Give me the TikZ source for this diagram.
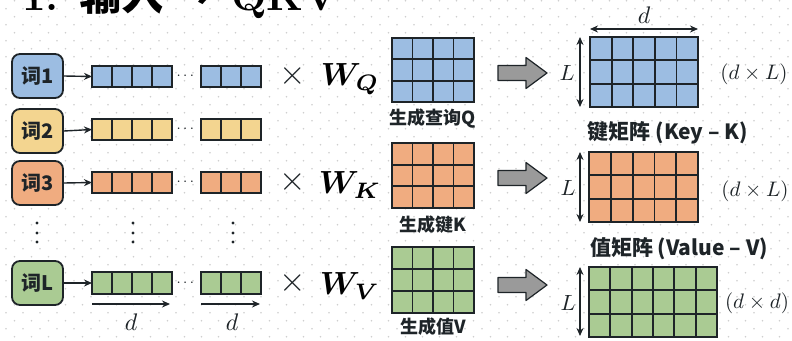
\documentclass[tikz,border=0pt]{standalone}
\usepackage{amsmath,bm}
\usepackage{graphicx}
\usepackage{fontspec}
\newfontfamily\cjk{Noto Sans CJK SC}
\usetikzlibrary{arrows.meta}
\definecolor{cblue}{HTML}{9CBDE2}
\definecolor{cyellow}{HTML}{F3D590}
\definecolor{corange}{HTML}{F0AC80}
\definecolor{cgreen}{HTML}{AACB93}
\definecolor{linec}{HTML}{1E2428}
\definecolor{dotc}{HTML}{CFCFCF}
\definecolor{garrow}{HTML}{9A9A9A}
\newcommand\gridmat[8]{%
  \node[matbox, fill=#8, minimum width={#4-#2}, minimum height={#5-#3}] (#1) at ({(#2+#4)/2},{(#3+#5)/2}) {};
  \pgfmathsetmacro\gcw{(#4-#2)/#6}%
  \pgfmathsetmacro\grh{(#5-#3)/#7}%
  \pgfmathtruncatemacro\gcn{#6-1}%
  \pgfmathtruncatemacro\grn{#7-1}%
  \ifnum\gcn>0 \foreach \c in {1,...,\gcn} {\draw[gline] ({#2+\c*\gcw},#3) -- ({#2+\c*\gcw},#5);}\fi
  \ifnum\grn>0 \foreach \r in {1,...,\grn} {\draw[gline] (#2,{#3+\r*\grh}) -- (#4,{#3+\r*\grh});}\fi
  \draw[line width=2.2pt, draw=linec] (#1.north west) rectangle (#1.south east);
}
\newcommand\grayarrow[1]{%
  \draw[fill=garrow, draw=linec, line width=1.2pt, line join=round]
    (498,#1-7.5) -- (526,#1-7.5) -- (526,#1-15.5) -- (547,#1) -- (526,#1+15.5) -- (526,#1+7.5) -- (498,#1+7.5) -- cycle;
}
\newcommand\scmath[2]{\scalebox{#1}{$#2$}}
\begin{document}
\begin{tikzpicture}[x=1pt,y=-1pt,
  matbox/.style={draw=linec, line width=2.2pt, inner sep=0pt, outer sep=0pt},
  gline/.style={draw=linec, line width=1.8pt},
  wordbox/.style={draw=linec, line width=1.8pt, rounded corners=8pt, minimum width=51pt, minimum height=44pt, inner sep=0pt, font=\fontsize{20}{20}\selectfont\cjk\bfseries, text=linec},
  conn/.style={-{Stealth[length=8pt,width=7pt]}, line width=1.4pt, draw=linec},
  dimarrow/.style={{Stealth[length=8pt,width=7pt]}-{Stealth[length=8pt,width=7pt]}, line width=1.4pt, draw=linec},
  cjklab/.style={font=\fontsize{18}{18}\selectfont\cjk\bfseries, text=linec, inner sep=0pt},
  mathlab/.style={text=linec, inner sep=0pt},
]
\useasboundingbox (0,0) rectangle (792,340);
\clip (0,0) rectangle (792,340);
\fill[white] (0,0) rectangle (792,340);
% dotted background
\foreach \j in {0,...,42} {
  \pgfmathsetmacro\oy{0.7+8*\j}
  \pgfmathsetmacro\ox{ifthenelse(mod(\j,2)==1,6,14.5)}
  \foreach \i in {0,...,46} {\fill[dotc] (\ox+17*\i,\oy) circle[radius=0.9pt];}
}
% title (cut off at top)
\node[anchor=base west, inner sep=0pt, font=\fontsize{42}{42}\selectfont\bfseries, text=black] (title) at (22,10) {1. {\cjk\bfseries 输入 →} QKV};

% word boxes
\node[wordbox, fill=cblue] (w1) at (37.5,76) {词1};
\node[wordbox, fill=cyellow] (w2) at (37.5,131) {词2};
\node[wordbox, fill=corange] (w3) at (37.5,183) {词3};
\node[wordbox, fill=cgreen] (wL) at (37.5,283) {词L};

% vectors
\gridmat{v1a}{92}{66}{172}{87}{4}{1}{cblue}
\gridmat{v1b}{201}{66}{261}{87}{3}{1}{cblue}
\gridmat{v2a}{92}{119}{172}{140}{4}{1}{cyellow}
\gridmat{v2b}{201}{119}{261}{140}{3}{1}{cyellow}
\gridmat{v3a}{92}{172}{172}{193}{4}{1}{corange}
\gridmat{v3b}{201}{172}{261}{193}{3}{1}{corange}
\gridmat{vLa}{92}{272}{172}{294}{4}{1}{cgreen}
\gridmat{vLb}{201}{272}{261}{294}{3}{1}{cgreen}

\foreach \n/\y in {1/76.5,2/129.5,3/182.5,L/283} {
  \node[mathlab] (dots\n) at (186.5,\y) {\scmath{1.5}{\cdots}};
}
\draw[conn] (w1.east) -- (v1a.west);
\draw[conn] (w2.east) -- (v2a.west);
\draw[conn] (w3.east) -- (v3a.west);
\draw[conn] (wL.east) -- (vLa.west);

% vertical ellipses
\foreach \x in {37,133,233} {
  \foreach \y in {223,233,242} {\fill[linec] (\x,\y) circle[radius=1.6pt];}
}

% d arrows below
\coordinate (da1) at (92,304); \coordinate (da2) at (170,304);
\coordinate (db1) at (201,304); \coordinate (db2) at (260,304);
\draw[conn] (da1) -- (da2);
\draw[conn] (db1) -- (db2);
\node[mathlab] (dl1) at (131,322) {\scmath{2.4}{d}};
\node[mathlab] (dl2) at (232,322) {\scmath{2.4}{d}};

% times and W
\foreach \n/\y/\s in {q/76/Q,k/182/K,v/283/V} {
  \node[mathlab] (x\n) at (293,\y) {\scmath{3.4}{\times}};
  \node[mathlab, text=black] (W\n) at (350,\y+3) {\scmath{3.2}{\bm{W}_{\bm{\s}}}};
}

% weight matrices
\gridmat{wq}{392}{38}{474}{102}{4}{3}{cblue}
\gridmat{wk}{392}{143}{474}{208}{4}{3}{corange}
\gridmat{wv}{392}{247}{474}{313}{4}{3}{cgreen}
\node[cjklab] (lq) at (433,119) {生成查询Q};
\node[cjklab] (lk) at (433,225) {生成键K};
\node[cjklab] (lv) at (433,327) {生成值V};

% gray arrows
\grayarrow{73}
\grayarrow{178}
\grayarrow{285}

% result matrices
\gridmat{rq}{590}{37}{698}{107}{5}{3}{cblue}
\gridmat{rk}{589}{152}{698}{222}{5}{3}{corange}
\gridmat{rv}{589}{267}{717}{337}{6}{3}{cgreen}

\coordinate (tq1) at (590,29); \coordinate (tq2) at (698,29);
\draw[dimarrow] (tq1) -- (tq2);
\node[mathlab] (dq) at (644,15) {\scmath{2.4}{d}};

\coordinate (lq1) at (580,37); \coordinate (lq2) at (580,107);
\coordinate (lk1) at (580,152); \coordinate (lk2) at (580,222);
\coordinate (lv1) at (580,267); \coordinate (lv2) at (580,336);
\draw[dimarrow] (lq1) -- (lq2);
\draw[dimarrow] (lk1) -- (lk2);
\draw[dimarrow] (lv1) -- (lv2);
\node[mathlab] (Lq) at (567,73) {\scmath{2.2}{L}};
\node[mathlab] (Lk) at (568,188) {\scmath{2.2}{L}};
\node[mathlab] (Lv) at (568,303) {\scmath{2.2}{L}};

\node[mathlab] (sq) at (754,74) {\scmath{2.1}{(d\times L)}};
\node[mathlab] (sk) at (755,191) {\scmath{2.1}{(d\times L)}};
\node[mathlab] (sv) at (757,303) {\scmath{2.1}{(d\times d)}};

\node[font=\fontsize{21}{21}\selectfont\cjk\bfseries, text=linec, inner sep=0pt] (kl) at (668,133) {键矩阵 (Key – K)};
\node[font=\fontsize{21}{21}\selectfont\cjk\bfseries, text=linec, inner sep=0pt] (vl) at (679,249) {值矩阵 (Value – V)};
\end{tikzpicture}
\end{document}
